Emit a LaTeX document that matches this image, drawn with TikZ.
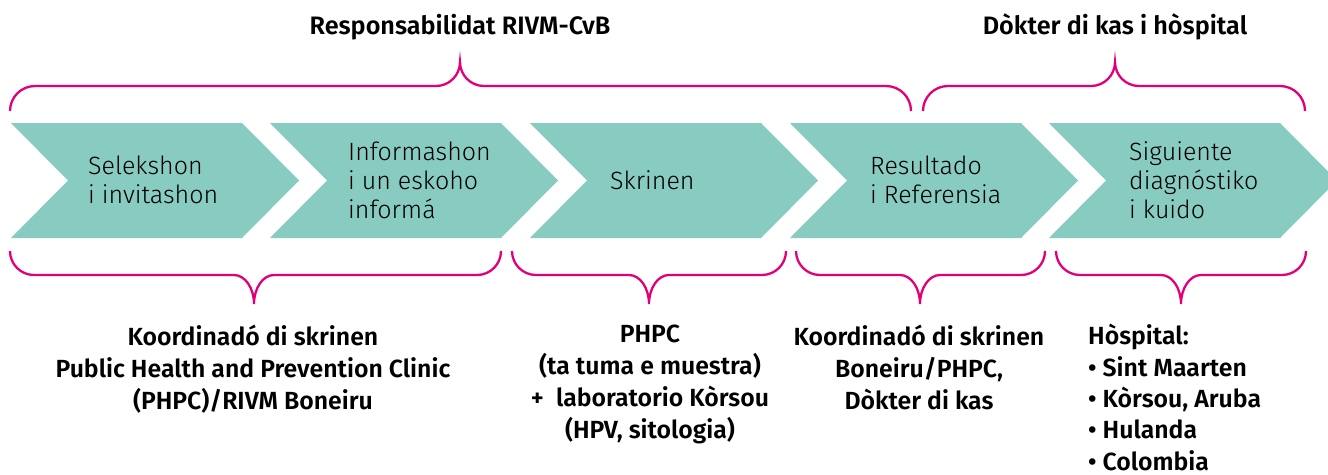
\documentclass[tikz,border=0pt]{standalone}
\usepackage{fontspec}
\setmainfont{Fira Sans}[UprightFont={* Light},BoldFont={* SemiBold}]
\usepackage{tikz}
\definecolor{chevroncol}{HTML}{88CBC0}
\definecolor{bracecol}{HTML}{E2007A}

\tikzset{
	chevron/.style={fill=chevroncol},
	brace/.style={draw=bracecol, line width=2.3pt},
	steptext/.style={anchor=west, align=left, inner sep=0pt, font=\fontsize{25}{29}\selectfont},
	roletext/.style={anchor=north, align=center, inner sep=0pt, font=\bfseries\fontsize{24.8}{32}\selectfont},
	headtext/.style={anchor=base, inner sep=0pt, font=\bfseries\fontsize{25.2}{32}\selectfont}
}

\begin{document}
\begin{tikzpicture}[x=1pt,y=-1pt]
	
	\clip (0,0) rectangle (1328,474);
	
	% the five steps
	\fill [chevron] (11,123) -- ++(231,0) -- ++(57,57.5) -- ++(-57,57.5) -- ++(-231,0) -- ++(57,-57.5) -- cycle;
	\fill [chevron] (270,123) -- ++(231,0) -- ++(57,57.5) -- ++(-57,57.5) -- ++(-231,0) -- ++(57,-57.5) -- cycle;
	\fill [chevron] (530,123) -- ++(231,0) -- ++(57,57.5) -- ++(-57,57.5) -- ++(-231,0) -- ++(57,-57.5) -- cycle;
	\fill [chevron] (790,123) -- ++(231,0) -- ++(57,57.5) -- ++(-57,57.5) -- ++(-231,0) -- ++(57,-57.5) -- cycle;
	\fill [chevron] (1049,123) -- ++(231,0) -- ++(57,57.5) -- ++(-57,57.5) -- ++(-231,0) -- ++(57,-57.5) -- cycle;
	
	\node [steptext] (selekshon) at (88,180) {Selekshon\\i invitashon};
	\node [steptext] (informashon) at (348,180) {Informashon\\i un eskoho\\informá};
	\node [steptext] (skrinen) at (610,180) {Skrinen};
	\node [steptext] (resultado) at (870,180) {Resultado\\i Referensia};
	\node [steptext] (siguiente) at (1129,180) {Siguiente\\diagnóstiko\\i kuido};
	
	% braces above
	\draw [brace] (10,111) arc [start angle=180, end angle=270, radius=25] -- (436,86)
		arc [start angle=90, end angle=0, radius=24] arc [start angle=180, end angle=90, radius=24]
		-- (886,86) arc [start angle=270, end angle=360, radius=25];
	\draw [brace] (923,111) arc [start angle=180, end angle=270, radius=25] -- (1091,86)
		arc [start angle=90, end angle=0, radius=24] arc [start angle=180, end angle=90, radius=24]
		-- (1280,86) arc [start angle=270, end angle=360, radius=25];
	
	\node [headtext] (rivm) at (460,34) {Responsabilidat RIVM-CvB};
	\node [headtext] (dokter) at (1115,34) {Dòkter di kas i hòspital};
	
	% braces below
	\draw [brace] (10,251) arc [start angle=180, end angle=90, radius=24] -- (234,275)
		arc [start angle=270, end angle=360, x radius=20, y radius=29] arc [start angle=180, end angle=270, x radius=20, y radius=29]
		-- (477,275) arc [start angle=90, end angle=0, radius=24];
	\draw [brace] (512,251) arc [start angle=180, end angle=90, radius=24] -- (629,275)
		arc [start angle=270, end angle=360, x radius=20, y radius=29] arc [start angle=180, end angle=270, x radius=20, y radius=29]
		-- (762,275) arc [start angle=90, end angle=0, radius=24];
	\draw [brace] (796,251) arc [start angle=180, end angle=90, radius=24] -- (900,275)
		arc [start angle=270, end angle=360, x radius=20, y radius=29] arc [start angle=180, end angle=270, x radius=20, y radius=29]
		-- (1021,275) arc [start angle=90, end angle=0, radius=24];
	\draw [brace] (1056,251) arc [start angle=180, end angle=90, radius=24] -- (1161,275)
		arc [start angle=270, end angle=360, x radius=20, y radius=29] arc [start angle=180, end angle=270, x radius=20, y radius=29]
		-- (1282,275) arc [start angle=90, end angle=0, radius=24];
	
	\node [roletext] (koordinado) at (253,325) {Koordinadó di skrinen\\Public Health and Prevention Clinic\\(PHPC)/RIVM Boneiru};
	\node [roletext] (phpc) at (650,325) {PHPC\\ (ta tuma e muestra)\\+\ \ laboratorio Kòrsou\\(HPV, sitologia)};
	\node [roletext] (boneiru) at (919,325) {Koordinadó di skrinen\\Boneiru/PHPC,\\Dòkter di kas};
	\node [roletext, anchor=north west, align=left, font=\bfseries\fontsize{24.8}{31.4}\selectfont] (hospital) at (1088,324) {Hòspital:\\• Sint Maarten\\• Kòrsou, Aruba\\• Hulanda\\• Colombia};
	
\end{tikzpicture}
\end{document}
